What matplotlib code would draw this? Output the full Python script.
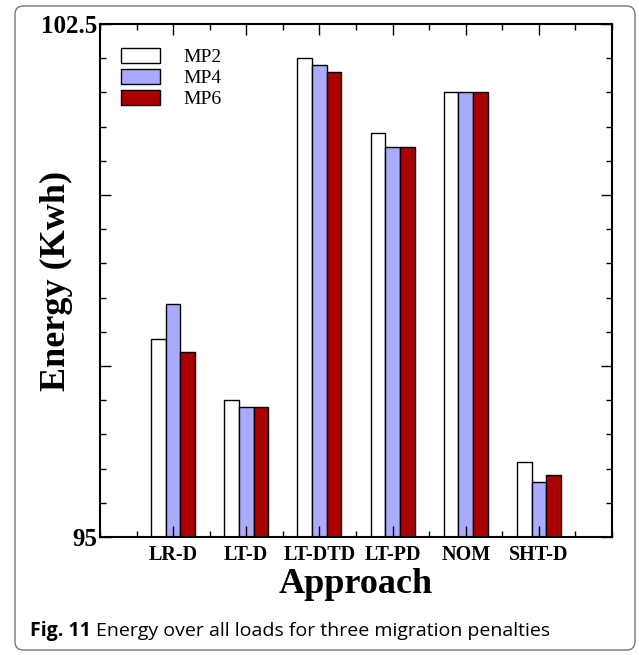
import matplotlib
matplotlib.use("Agg")
import matplotlib.pyplot as plt
import numpy as np
from matplotlib.patches import FancyBboxPatch
from matplotlib.ticker import MultipleLocator, FixedLocator

# Energy (Kwh) per approach
approaches = ["LR-D", "LT-D", "LT-DTD", "LT-PD", "NOM", "SHT-D"]
mp2 = [97.9, 97.0, 102.0, 100.9, 101.5, 96.1]
mp4 = [98.4, 96.9, 101.9, 100.7, 101.5, 95.8]
mp6 = [97.7, 96.9, 101.8, 100.7, 101.5, 95.9]
series = {"MP2": mp2, "MP4": mp4, "MP6": mp6}
colors = {"MP2": "white", "MP4": "#aaaaff", "MP6": "#aa0000"}

serif = "Liberation Serif"

fig = plt.figure(figsize=(6.39, 6.55), dpi=100)
ax = fig.add_axes([100 / 639, 118 / 655, 512 / 639, 513 / 655])

x = np.arange(1, len(approaches) + 1)
width = 0.2
for i, (name, vals) in enumerate(series.items()):
    ax.bar(x + (i - 1) * width, np.array(vals) - 95, width, bottom=95,
           color=colors[name], edgecolor="black", linewidth=1.0, label=name)

ax.set_xlim(0, 7)
ax.set_ylim(95, 102.5)
ax.xaxis.set_major_locator(FixedLocator(x))
ax.xaxis.set_minor_locator(MultipleLocator(0.5))
ax.yaxis.set_minor_locator(MultipleLocator(0.5))
ax.set_xticklabels(approaches, fontfamily=serif, fontweight="bold", fontsize=14.5)
ax.set_yticks([95, 97.5, 100, 102.5])
ax.set_yticklabels(["95", "", "", "102.5"], fontfamily=serif,
                   fontweight="bold", fontsize=18)
ax.tick_params(which="both", direction="in", top=True, right=True)
ax.tick_params(which="major", length=8, width=1)
ax.tick_params(which="minor", length=4, width=1)
ax.tick_params(axis="x", pad=6)
ax.tick_params(axis="y", pad=2)
for s in ax.spines.values():
    s.set_linewidth(1.5)

ax.set_xlabel("Approach", fontfamily=serif, fontweight="bold", fontsize=26,
              labelpad=2)
ax.set_ylabel("Energy (Kwh)", fontfamily=serif, fontweight="bold", fontsize=26,
              labelpad=-23)

ax.legend(loc="upper left", bbox_to_anchor=(0.033, 0.96), frameon=False,
          prop={"family": serif, "size": 14}, handlelength=2.0,
          handleheight=0.78, labelspacing=0.14, handletextpad=1.2,
          borderpad=0.2, borderaxespad=0)

# caption and rounded frame
cap_y = 1 - 631 / 655
t1 = fig.text(30 / 639, cap_y, "Fig. 11", fontsize=14,
              fontfamily="Open Sans", fontweight="bold", va="center")
fig.canvas.draw()
bb = t1.get_window_extent()
fig.text((bb.x1 + 5) / 639, cap_y,
         "Energy over all loads for three migration penalties",
         fontsize=14, fontfamily="Open Sans", va="center")

frame = FancyBboxPatch((15 / 639, 5 / 655), 620 / 639, 644 / 655,
                       boxstyle="round,pad=0,rounding_size=0.013",
                       transform=fig.transFigure, fill=False,
                       edgecolor="#777777", linewidth=1.0)
fig.patches.append(frame)

fig.savefig("out.png", dpi=100)
